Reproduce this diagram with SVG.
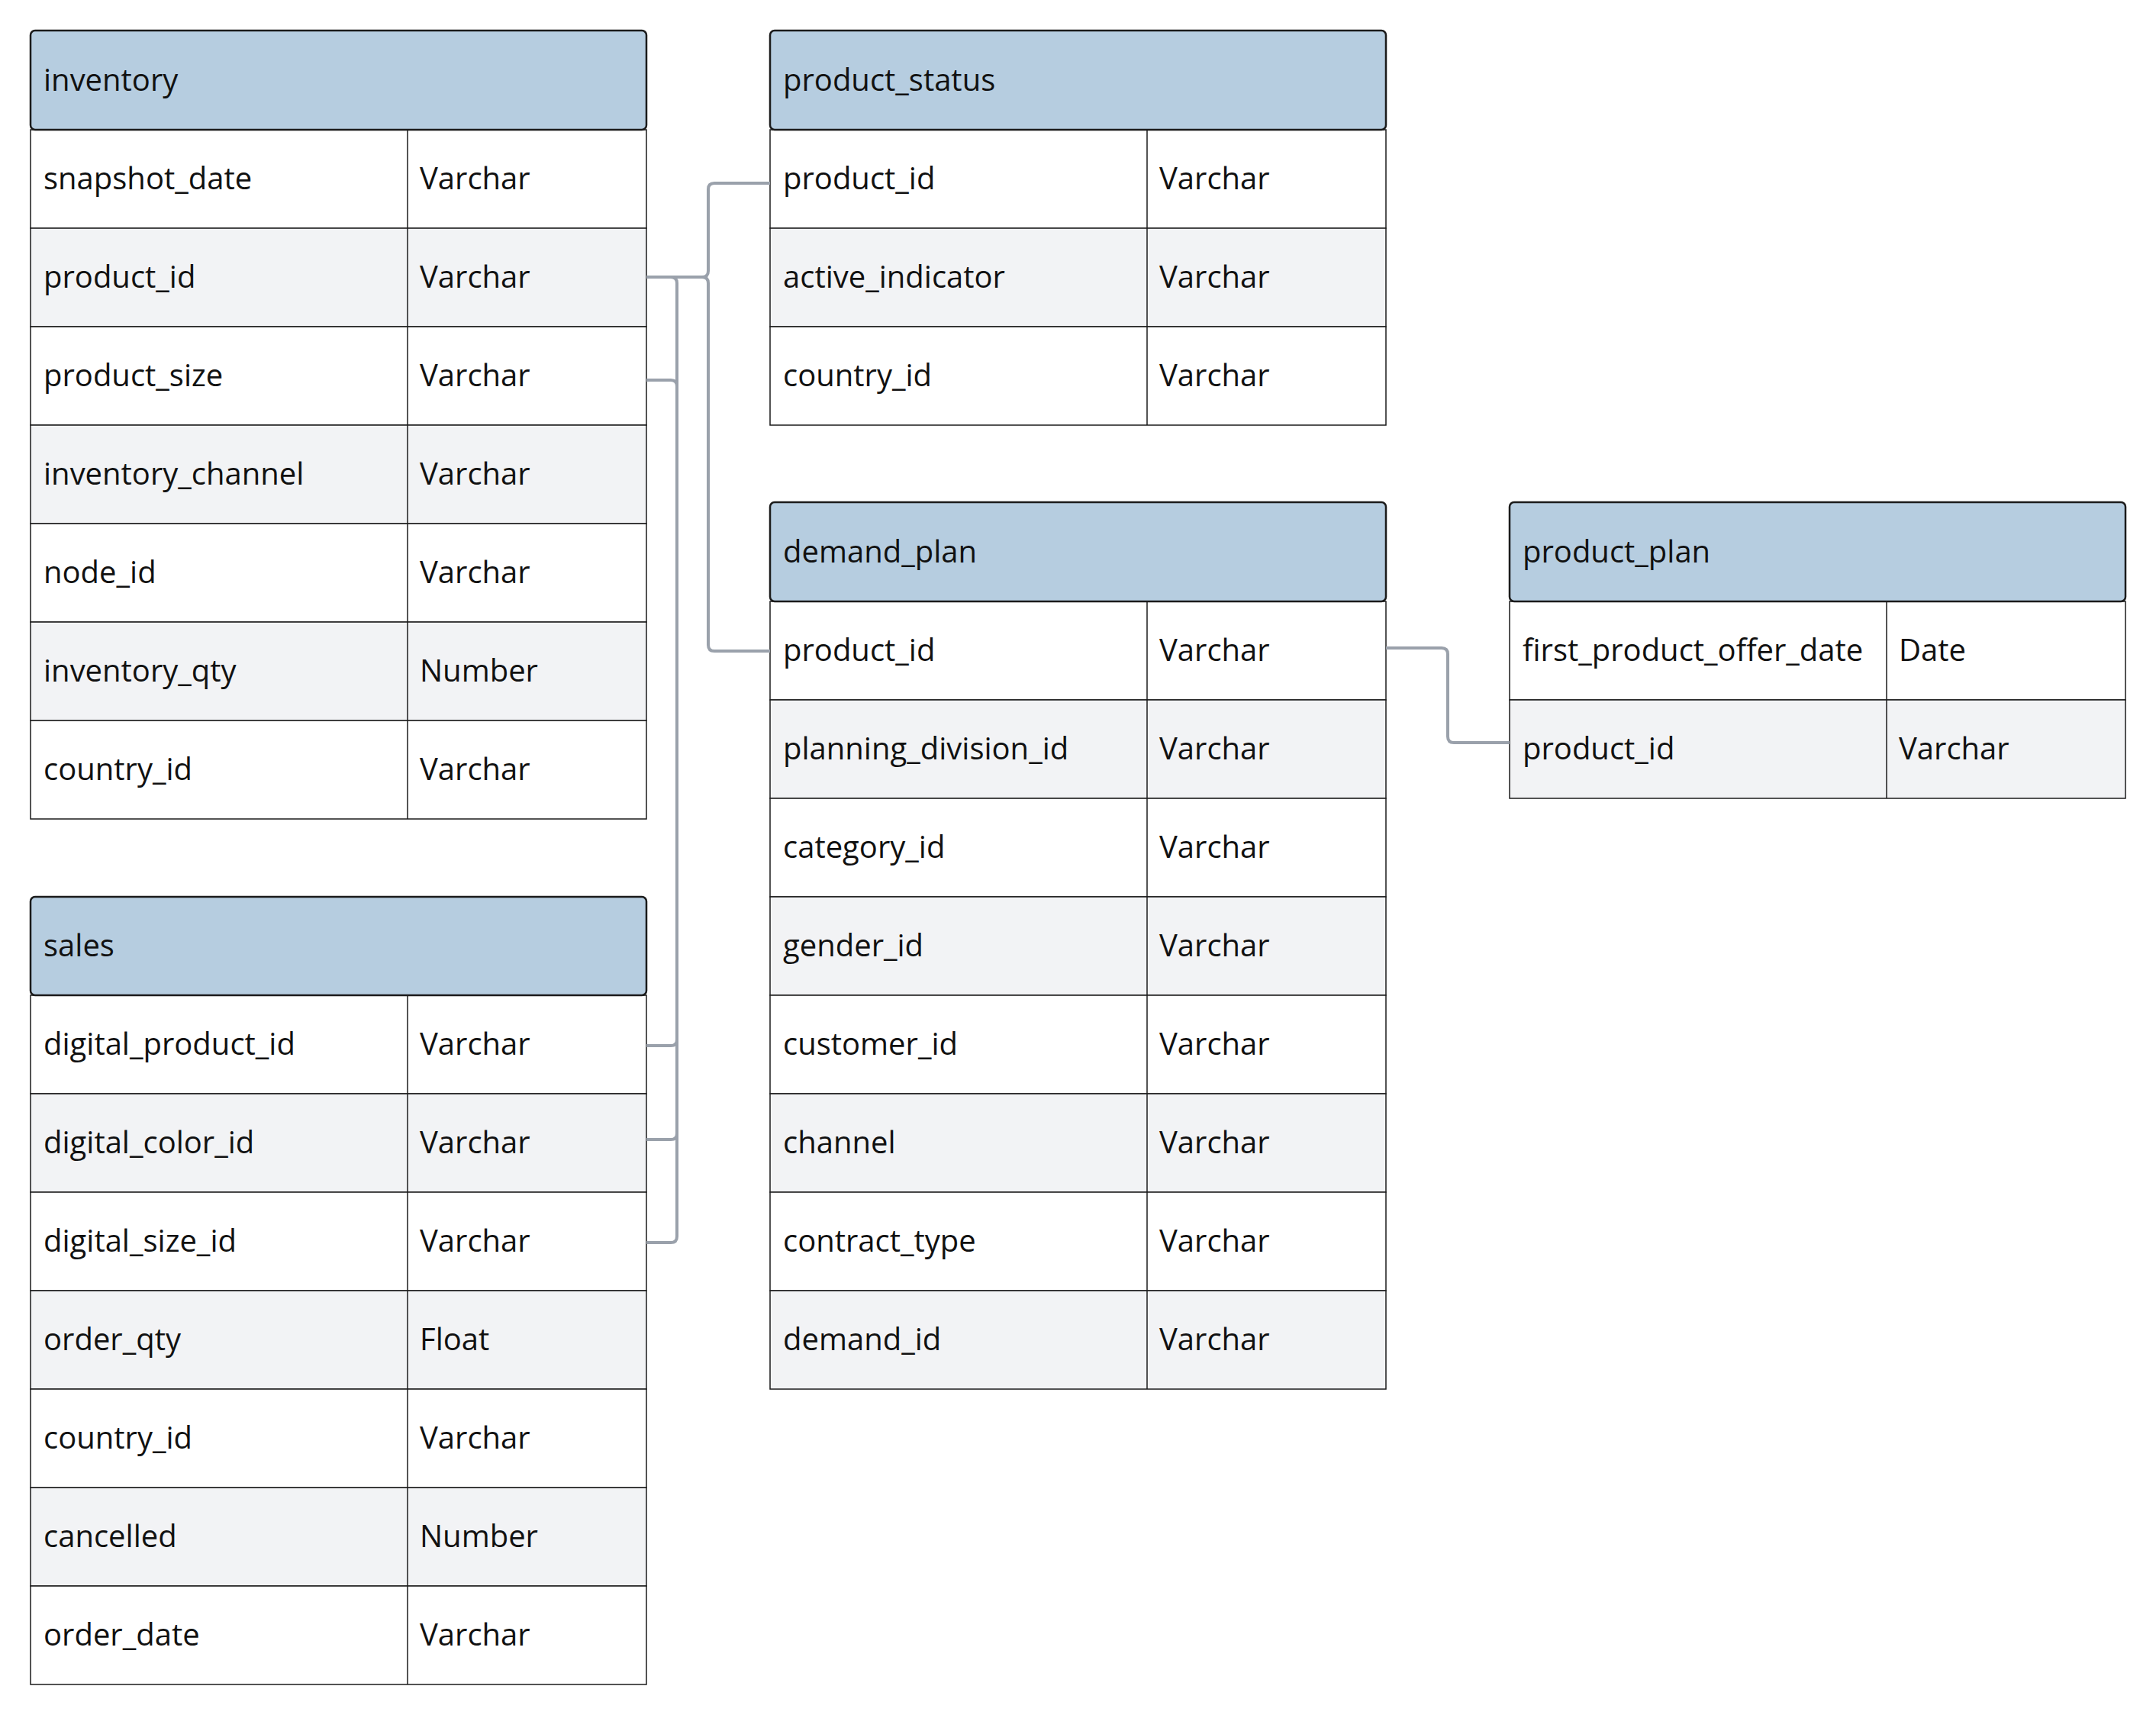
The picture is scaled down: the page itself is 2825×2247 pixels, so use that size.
<svg xmlns="http://www.w3.org/2000/svg" width="2825" height="2247" viewBox="0 0 2825 2247">
<style>
.bg{fill:#ffffff}
.hd{fill:#b6cde0;stroke:#1b1b1b;stroke-width:2.5}
.rw{fill:#ffffff;stroke:#1b1b1b;stroke-width:1.5}
.ra{fill:#f2f3f5;stroke:#1b1b1b;stroke-width:1.5}
.dv{stroke:#1b1b1b;stroke-width:1.5}
.t{font-family:"Open Sans","Noto Sans","Liberation Sans",sans-serif;font-size:40px;fill:#111111}
.cn{fill:none;stroke:#9aa1ab;stroke-width:4;stroke-linejoin:round}
</style>
<rect class="bg" x="0" y="0" width="2825" height="2247"/>

<g id="inventory">
<rect class="rw" x="40" y="170" width="807" height="129"/>
<rect class="ra" x="40" y="299" width="807" height="129"/>
<rect class="rw" x="40" y="428" width="807" height="129"/>
<rect class="ra" x="40" y="557" width="807" height="129"/>
<rect class="rw" x="40" y="686" width="807" height="129"/>
<rect class="ra" x="40" y="815" width="807" height="129"/>
<rect class="rw" x="40" y="944" width="807" height="129"/>
<line class="dv" x1="534" y1="170" x2="534" y2="1073"/>
<rect class="hd" x="40" y="40" width="807" height="130" rx="6"/>
<text class="t" x="57" y="119">inventory</text>
<text class="t" x="57" y="248">snapshot_date</text><text class="t" x="550" y="248">Varchar</text>
<text class="t" x="57" y="377">product_id</text><text class="t" x="550" y="377">Varchar</text>
<text class="t" x="57" y="506">product_size</text><text class="t" x="550" y="506">Varchar</text>
<text class="t" x="57" y="635">inventory_channel</text><text class="t" x="550" y="635">Varchar</text>
<text class="t" x="57" y="764">node_id</text><text class="t" x="550" y="764">Varchar</text>
<text class="t" x="57" y="893">inventory_qty</text><text class="t" x="550" y="893">Number</text>
<text class="t" x="57" y="1022">country_id</text><text class="t" x="550" y="1022">Varchar</text>
</g>

<g id="sales">
<rect class="rw" x="40" y="1304" width="807" height="129"/>
<rect class="ra" x="40" y="1433" width="807" height="129"/>
<rect class="rw" x="40" y="1562" width="807" height="129"/>
<rect class="ra" x="40" y="1691" width="807" height="129"/>
<rect class="rw" x="40" y="1820" width="807" height="129"/>
<rect class="ra" x="40" y="1949" width="807" height="129"/>
<rect class="rw" x="40" y="2078" width="807" height="129"/>
<line class="dv" x1="534" y1="1304" x2="534" y2="2207"/>
<rect class="hd" x="40" y="1175" width="807" height="129" rx="6"/>
<text class="t" x="57" y="1253">sales</text>
<text class="t" x="57" y="1382">digital_product_id</text><text class="t" x="550" y="1382">Varchar</text>
<text class="t" x="57" y="1511">digital_color_id</text><text class="t" x="550" y="1511">Varchar</text>
<text class="t" x="57" y="1640">digital_size_id</text><text class="t" x="550" y="1640">Varchar</text>
<text class="t" x="57" y="1769">order_qty</text><text class="t" x="550" y="1769">Float</text>
<text class="t" x="57" y="1898">country_id</text><text class="t" x="550" y="1898">Varchar</text>
<text class="t" x="57" y="2027">cancelled</text><text class="t" x="550" y="2027">Number</text>
<text class="t" x="57" y="2156">order_date</text><text class="t" x="550" y="2156">Varchar</text>
</g>

<g id="product_status">
<rect class="rw" x="1009" y="170" width="807" height="129"/>
<rect class="ra" x="1009" y="299" width="807" height="129"/>
<rect class="rw" x="1009" y="428" width="807" height="129"/>
<line class="dv" x1="1503" y1="170" x2="1503" y2="557"/>
<rect class="hd" x="1009" y="40" width="807" height="130" rx="6"/>
<text class="t" x="1026" y="119">product_status</text>
<text class="t" x="1026" y="248">product_id</text><text class="t" x="1519" y="248">Varchar</text>
<text class="t" x="1026" y="377">active_indicator</text><text class="t" x="1519" y="377">Varchar</text>
<text class="t" x="1026" y="506">country_id</text><text class="t" x="1519" y="506">Varchar</text>
</g>

<g id="demand_plan">
<rect class="rw" x="1009" y="788" width="807" height="129"/>
<rect class="ra" x="1009" y="917" width="807" height="129"/>
<rect class="rw" x="1009" y="1046" width="807" height="129"/>
<rect class="ra" x="1009" y="1175" width="807" height="129"/>
<rect class="rw" x="1009" y="1304" width="807" height="129"/>
<rect class="ra" x="1009" y="1433" width="807" height="129"/>
<rect class="rw" x="1009" y="1562" width="807" height="129"/>
<rect class="ra" x="1009" y="1691" width="807" height="129"/>
<line class="dv" x1="1503" y1="788" x2="1503" y2="1820"/>
<rect class="hd" x="1009" y="658" width="807" height="130" rx="6"/>
<text class="t" x="1026" y="737">demand_plan</text>
<text class="t" x="1026" y="866">product_id</text><text class="t" x="1519" y="866">Varchar</text>
<text class="t" x="1026" y="995">planning_division_id</text><text class="t" x="1519" y="995">Varchar</text>
<text class="t" x="1026" y="1124">category_id</text><text class="t" x="1519" y="1124">Varchar</text>
<text class="t" x="1026" y="1253">gender_id</text><text class="t" x="1519" y="1253">Varchar</text>
<text class="t" x="1026" y="1382">customer_id</text><text class="t" x="1519" y="1382">Varchar</text>
<text class="t" x="1026" y="1511">channel</text><text class="t" x="1519" y="1511">Varchar</text>
<text class="t" x="1026" y="1640">contract_type</text><text class="t" x="1519" y="1640">Varchar</text>
<text class="t" x="1026" y="1769">demand_id</text><text class="t" x="1519" y="1769">Varchar</text>
</g>

<g id="product_plan">
<rect class="rw" x="1978" y="788" width="807" height="129"/>
<rect class="ra" x="1978" y="917" width="807" height="129"/>
<line class="dv" x1="2472" y1="788" x2="2472" y2="1046"/>
<rect class="hd" x="1978" y="658" width="807" height="130" rx="6"/>
<text class="t" x="1995" y="737">product_plan</text>
<text class="t" x="1995" y="866">first_product_offer_date</text><text class="t" x="2488" y="866">Date</text>
<text class="t" x="1995" y="995">product_id</text><text class="t" x="2488" y="995">Varchar</text>
</g>

<g id="connectors">
<path class="cn" d="M847,363 H920 Q928,363 928,355 V248 Q928,240 936,240 H1009"/>
<path class="cn" d="M847,363 H920 Q928,363 928,371 V845 Q928,853 936,853 H1009"/>
<path class="cn" d="M847,363 H879 Q887,363 887,371 V1362 Q887,1370 879,1370 H847"/>
<path class="cn" d="M847,498 H879 Q887,498 887,506 V1620 Q887,1628 879,1628 H847"/>
<path class="cn" d="M847,1493 H879 Q887,1493 887,1485 V1400"/>
<path class="cn" d="M1816,849 H1889 Q1897,849 1897,857 V965 Q1897,973 1905,973 H1978"/>
</g>
</svg>
